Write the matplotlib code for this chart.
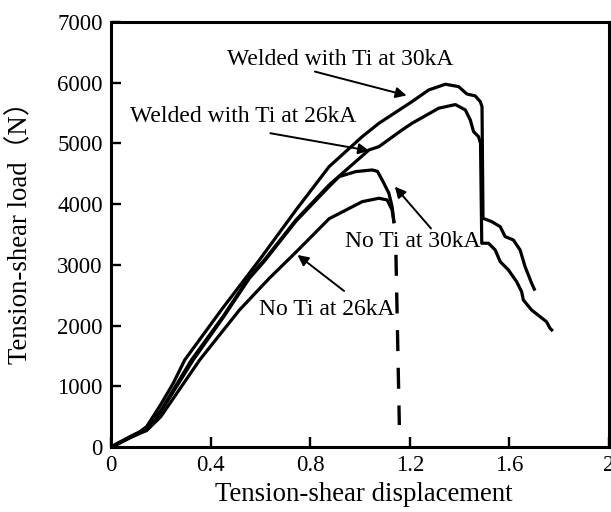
#Tension-shear load vs displacement curves
import matplotlib
matplotlib.use("Agg")
import matplotlib.pyplot as plt

#Welded with Ti at 30kA
w30_x = [0, 0.03, 0.076, 0.116, 0.143, 0.2, 0.25, 0.296, 0.443, 0.596, 0.743, 0.876, 1.009, 1.076,
         1.209, 1.276, 1.343, 1.396, 1.429, 1.463, 1.483, 1.49, 1.494, 1.529, 1.563, 1.583, 1.616,
         1.643, 1.663, 1.689, 1.70]
w30_y = [0, 70, 170, 252, 335, 700, 1050, 1433, 2257, 3081, 3904, 4618, 5112, 5332,
         5689, 5881, 5975, 5936, 5815, 5782, 5689, 5606, 3767, 3712, 3629, 3465, 3410,
         3245, 2970, 2700, 2600]

#Welded with Ti at 26kA
w26_x = [0, 0.03, 0.076, 0.116, 0.143, 0.2, 0.323, 0.45, 0.556, 0.616, 0.743, 0.876, 1.036, 1.076,
         1.169, 1.209, 1.316, 1.383, 1.423, 1.443, 1.456, 1.476, 1.484, 1.489, 1.516, 1.543,
         1.563, 1.596, 1.629, 1.649, 1.656, 1.689, 1.723, 1.749, 1.763, 1.77]
w26_y = [0, 60, 160, 240, 300, 600, 1433, 2150, 2806, 3081, 3740, 4316, 4893, 4947,
         5222, 5332, 5580, 5640, 5552, 5387, 5195, 5112, 5000, 3356, 3356, 3245,
         3053, 2916, 2723, 2559, 2422, 2257, 2147, 2064, 1956, 1928]

#No Ti at 30kA
n30_x = [0, 0.03, 0.076, 0.116, 0.143, 0.2, 0.33, 0.45, 0.556, 0.616, 0.743, 0.876, 0.916, 0.983,
         1.049, 1.07, 1.089, 1.116, 1.129, 1.136]
n30_y = [0, 60, 160, 235, 290, 580, 1433, 2130, 2780, 3060, 3720, 4290, 4453, 4536,
         4563, 4540, 4399, 4179, 3959, 3712]

#No Ti at 30kA, drop after fracture (dashed)
drop_x = [1.143, 1.158]
drop_y = [3440, 362]

#No Ti at 26kA
n26_x = [0, 0.03, 0.076, 0.116, 0.143, 0.2, 0.356, 0.516, 0.636, 0.743, 0.876, 1.009, 1.076,
         1.109, 1.129, 1.136]
n26_y = [0, 55, 150, 225, 270, 500, 1433, 2257, 2780, 3210, 3760, 4041, 4097,
         4069, 3904, 3712]

#Labels and arrows (text position, arrow tail, arrow tip)
labels = ["Welded with Ti at 30kA", "Welded with Ti at 26kA", "No Ti at 30kA", "No Ti at 26kA"]
label_pos = [(0.92, 6376), (0.532, 5442), (1.21, 3382), (0.868, 2257)]
arrow_tail = [(0.819, 6183), (0.64, 5168), (1.285, 3600), (0.936, 2570)]
arrow_tip = [(1.187, 5790), (1.037, 4880), (1.14, 4288), (0.749, 3163)]

xticks = [0, 0.4, 0.8, 1.2, 1.6, 2]
xticklabels = ["0", "0.4", "0.8", "1.2", "1.6", "2"]
yticks = [0, 1000, 2000, 3000, 4000, 5000, 6000, 7000]

plt.rcParams['font.family'] = ['Liberation Serif', 'Noto Sans CJK SC']

fig = plt.figure(figsize=(6.11, 5.12), dpi=100)
ax = fig.add_axes([111/611, 65/512, 498/611, 425/512])

lw = 2.3
ax.plot(w30_x, w30_y, color="black", lw=lw)
ax.plot(w26_x, w26_y, color="black", lw=lw)
ax.plot(n30_x, n30_y, color="black", lw=lw)
ax.plot(n26_x, n26_y, color="black", lw=lw)
ax.plot(drop_x, drop_y, color="black", lw=2.4, linestyle=(6.3, (6.3, 5.0)))

for txt, pos, tail, tip in zip(labels, label_pos, arrow_tail, arrow_tip):
    ax.text(pos[0], pos[1], txt, fontsize=17, ha="center", va="center")
    ax.annotate("", xy=tip, xytext=tail,
                arrowprops=dict(arrowstyle="-|>", color="black", lw=1.4,
                                mutation_scale=16, shrinkA=0, shrinkB=0))

ax.set_xlim(0, 2)
ax.set_ylim(0, 7000)
ax.set_xticks(xticks)
ax.set_xticklabels(xticklabels)
ax.set_yticks(yticks)
ax.tick_params(direction="in", length=7, width=1.7, labelsize=16.5, pad=6,
               top=False, right=False)
for s in ax.spines.values():
    s.set_linewidth(2.2)

ax.set_xlabel("Tension-shear displacement", fontsize=19.3)
ax.set_ylabel("Tension-shear load（N）", fontsize=19.3)
ax.xaxis.set_label_coords(0.508, -0.082)
ax.yaxis.set_label_coords(-0.155, 0.52)

plt.savefig("out.png", dpi=100)
